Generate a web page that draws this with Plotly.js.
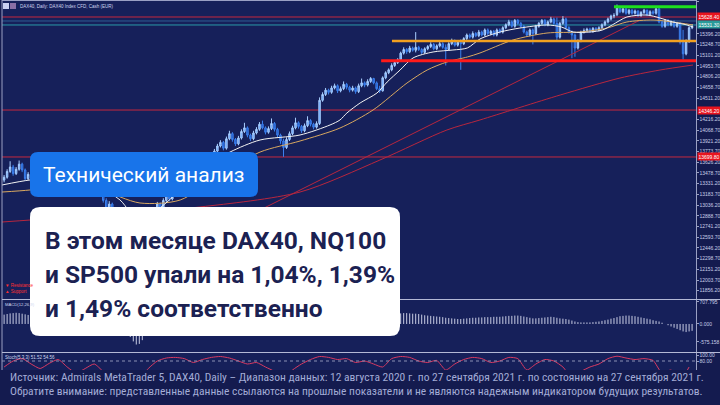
<!DOCTYPE html>
<html><head><meta charset="utf-8">
<script src="https://cdn.plot.ly/plotly-3.0.1.min.js"></script>
<style>html,body{margin:0;padding:0;background:#141b4f;}#chart{width:720px;height:405px;}</style>
</head><body><div id="chart"></div>
<script>
// ---- DAX40 daily bars ----
const openP = [
13380,13420,13500,13560,13470,13530,13600,13520,13400,13460,
13360,13300,13380,13450,13520,13430,13350,13280,13320,13400,
13470,13410,13330,13250,13300,13360,13420,13380,13290,13210,
13260,13330,13280,
13200,13100,12980,13050,12900,12760,12820,12650,12500,12580,12420,12300,12250,
12380,12550,12700,12880,12820,12950,13050,12980,13100,13180,13120,13220,13280,13200,13300,
13350,13400,13450,13380,13500,13560,13620,13580,13680,13720,
13780,13850,13900,13820,13950,14020,13940,13880,13960,14050,14100,14000,13950,14030,
14080,14150,14100,14040,14090,14160,14080,14000,13920,13830,13940,14020,14100,14170,14120,14060,14130,14200,14150,14110,
14160,
14480,14560,14620,14590,14650,14680,14610,14640,14700,14660,
14620,14650,14600,14680,14720,
14690,14740,14780,14720,14640,
14610,14790,14860,
14900,14960,15000,
15040,15130,15180,15150,15200,
15170,
15210,15180,15140,
15190,15220,15250,15190,15230,15260,
15210,
15180,15260,15300,15240,
15280,
15260,15330,15380,15350,15400,
15370,15420,15380,
15450,15400,15430,15380,15450,15420,
15480,15520,15560,15500,15580,15540,
15500,15420,15380,
15450,
15400,15500,15540,15580,15520,15560,15600,
15540,15350,15540,15600,
15480,15420,
15380,15200,
15300,
15420,15440,15460,15430,15470,15450,
15480,15520,15560,15600,15640,
15660,
15760,15700,15740,15680,
15720,15680,15710,15650,15690,15720,15660,15700,
15680,
15740,15560,15500,15580,
15520,15560,15500,
15530,15280,15120,15290,15480
];
const highP = [
13450,13530,13640,13590,13560,13650,13620,13540,13490,13480,
13390,13410,13480,13560,13540,13450,13370,13350,13430,13500,
13490,13430,13350,13330,13390,13450,13440,13400,13310,13290,
13360,13350,13300,
13220,13130,13090,13070,12930,12860,12840,12680,12610,12600,12450,12330,12410,
12580,12730,12910,12900,12980,13080,13070,13130,13210,13200,13250,13310,13300,13330,13380,
13430,13480,13470,13530,13590,13650,13640,13710,13750,13810,
13880,13930,13920,13980,14060,14040,13960,13990,14080,14170,14120,14020,14060,14110,
14180,14200,14120,14120,14230,14180,14100,14020,13950,13970,14050,14130,14240,14190,14140,14160,14260,14220,14170,14190,
14520,
14590,14650,14640,14680,14710,14700,14670,14740,14720,14680,
14680,14670,14710,14780,14740,
14770,14800,14790,14740,14680,
14810,14880,14920,
14990,15030,15060,
15150,15210,15200,15230,15220,
15420,
15230,15200,15210,
15240,15280,15270,15250,15290,15280,
15250,
15280,15330,15320,15300,
15320,
15350,15400,15400,15430,15420,
15450,15440,15470,
15470,15450,15450,15470,15470,15500,
15540,15590,15580,15600,15600,15560,
15520,15440,15470,
15470,
15520,15560,15600,15600,15580,15630,15620,
15620,15560,15640,15620,
15500,15440,
15400,15320,
15440,
15470,15480,15480,15490,15490,15500,
15540,15580,15620,15660,15680,
15800,
15780,15760,15750,15740,
15740,15730,15720,15710,15740,15730,15720,15720,
15760,
15750,15580,15600,15600,
15580,15580,15560,
15560,15450,15320,15500,15530
];
const lowP = [
13350,13400,13480,13440,13450,13510,13490,13370,13380,13330,
13270,13280,13360,13430,13400,13320,13240,13260,13300,13380,
13380,13300,13220,13230,13280,13340,13350,13260,13180,13190,
13240,13250,13170,
13070,12950,12960,12870,12720,12740,12620,12470,12480,12390,12260,12180,12220,
12360,12530,12680,12790,12800,12930,12950,12960,13080,13090,13100,13200,13170,13180,13280,
13330,13380,13350,13360,13480,13540,13550,13560,13660,13700,
13760,13830,13790,13800,13930,13910,13850,13860,13940,14030,13970,13920,13930,14010,
14060,14080,14010,14020,14070,14050,13970,13880,13700,13810,13920,14000,14080,14090,14030,14040,14110,14120,14080,14090,
14140,
14460,14540,14560,14570,14630,14580,14590,14620,14630,14590,
14600,14570,14580,14660,14660,
14670,14720,14700,14620,14580,
14600,14770,14840,
14880,14940,14980,
15020,15110,15120,15130,15150,
15140,
15160,15110,15120,
15170,15200,15170,15170,15210,15190,
14960,
15160,15240,15220,15220,
14900,
15240,15310,15330,15330,15350,
15350,15360,15360,
15380,15380,15360,15360,15400,15400,
15460,15500,15480,15480,15520,15480,
15400,15360,15360,
15250,
15380,15480,15520,15500,15500,15540,15520,
15300,15330,15520,15460,
15400,15060,
15080,15180,
15280,
15400,15420,15410,15410,15430,15430,
15460,15500,15540,15580,15610,
15640,
15680,15680,15660,15660,
15660,15660,15630,15630,15670,15640,15640,15660,
15660,
15540,15480,15480,15500,
15500,15480,15480,
15250,15040,15100,15270,15460
];
const closeP = [
13420,13500,13560,13470,13530,13600,13520,13400,13460,13360,
13300,13380,13450,13520,13430,13350,13280,13320,13400,13470,
13410,13330,13250,13300,13360,13420,13380,13290,13210,13260,
13330,13280,13200,
13100,12980,13050,12900,12760,12820,12650,12500,12580,12420,12300,12250,12380,
12550,12700,12880,12820,12950,13050,12980,13100,13180,13120,13220,13280,13200,13300,13350,
13400,13450,13380,13500,13560,13620,13580,13680,13720,13780,
13850,13900,13820,13950,14020,13940,13880,13960,14050,14100,14000,13950,14030,14080,
14150,14100,14040,14090,14160,14080,14000,13920,13830,13940,14020,14100,14170,14120,14060,14130,14200,14150,14110,14160,
14480,
14560,14620,14590,14650,14680,14610,14640,14700,14660,14620,
14650,14600,14680,14720,14690,
14740,14780,14720,14640,14610,
14790,14860,14900,
14960,15000,15040,
15130,15180,15150,15200,15170,
15210,
15180,15140,15190,
15220,15250,15190,15230,15260,15210,
15180,
15260,15300,15240,15280,
15260,
15330,15380,15350,15400,15370,
15420,15380,15450,
15400,15430,15380,15450,15420,15480,
15520,15560,15500,15580,15540,15500,
15420,15380,15450,
15400,
15500,15540,15580,15520,15560,15600,15540,
15350,15540,15600,15480,
15420,15380,
15200,15300,
15420,
15440,15460,15430,15470,15450,15480,
15520,15560,15600,15640,15650,
15760,
15700,15740,15680,15720,
15680,15710,15650,15690,15720,15660,15700,15680,
15740,
15560,15500,15580,15520,
15560,15500,15540,
15280,15120,15290,15480,15500
];

// ---- moving averages / trend line (read at sample bars) ----
const maFastIdx = [-0.7,8.6,18.6,31.9,38.6,45.2,51.9,58.6,65.2,75.2,85.2,98.5,108.5,111.8,114.1,118.5,124.1,127.5,131.8,136.1,142.8,149.4,154.2,158.4,165.1,171.7,180.7,185.5,189.4,195.0,199.2,202.4,207.3,214.0,218.3,222.6,227.3,229.3];
const maFastVal = [13313,13382,13409,13271,13106,12803,12996,13244,13519,13767,13933,14002,14140,14209,14305,14443,14580,14732,14897,15063,15146,15173,15201,15325,15421,15476,15518,15490,15421,15421,15449,15518,15628,15655,15614,15559,15518,15490];
const maMidIdx = [-0.7,8.6,18.6,31.9,45.2,58.6,71.9,85.2,98.5,111.8,122.8,134.1,140.8,147.4,154.2,158.4,169.4,180.7,191.7,200.7,207.3,216.0,225.0,229.3];
const maMidVal = [13216,13244,13299,13244,13065,13106,13451,13767,13919,14098,14346,14718,14897,15008,15077,15132,15311,15407,15421,15476,15559,15586,15545,15518];
const maSlowIdx = [-0.7,31.9,65.2,98.5,125.1,147.4,158.4,185.1,205.0,218.3,229.3];
const maSlowVal = [12803,12899,13010,13216,13657,14071,14209,14553,14787,14897,14966];
const trendIdx = [85.2,211.7];
const trendVal = [12968,15586];

// ---- horizontal levels ----
const levelThinRed = [15628,14346,13699];
const levelTeal = [15573,15518];
const levelGreen = 15770, levelOrange = 15297, levelRedThick = 15026;
const levelGreenFrom = 203.0, levelOrangeFrom = 129.1, levelRedFrom = 125.5;
const tagRed = [["15628.40",15628],["14346.20",14346],["13699.80",13699]];
const tagTeal = ["15531.30",15531];

// ---- MACD main (histogram) ----
const macd = [
300,320,340,350,360,350,330,310,290,270,
250,230,220,210,200,180,160,150,140,140,130,110,90,80,70,60,50,30,10,-10,-20,-40,-60,
-80,-110,-130,-160,-200,-230,-270,-310,-340,-420,-560,-660,-640,
-520,-380,-280,-200,-140,-80,-40,0,40,70,100,130,150,170,190,
210,230,240,260,280,300,310,320,330,340,350,360,350,350,360,340,320,310,300,300,280,260,250,240,
230,220,200,190,180,160,140,110,80,70,70,80,90,100,100,110,120,120,120,130,
160,200,240,270,300,320,330,340,350,350,340,330,320,310,300,290,280,270,250,230,210,220,240,260,280,300,
320,340,350,350,340,330,330,320,300,280,270,260,250,240,230,220,200,190,180,170,160,160,170,180,190,200,200,210,210,220,
220,220,230,230,230,240,250,260,260,270,270,260,240,220,200,180,180,190,200,210,220,230,220,200,180,170,160,140,110,80,
60,50,50,50,50,60,70,80,100,120,140,170,190,220,250,260,270,270,260,250,230,210,190,170,150,120,100,80,40,0,-40,-80,-120,-160,-200,-240,-260,-240,-220
];
// ---- stochastic main line, every 3rd bar ----
const stochStep = 3;
const stoch = [60,80,88,70,55,72,85,60,40,55,70,45,25,15,10,20,55,80,90,92,88,75,85,92,95,90,80,70,75,60,45,20,50,70,85,95,92,85,88,75,80,70,60,88,95,92,80,75,82,50,70,85,92,88,75,80,92,88,50,70,85,80,60,25,45,60,70,88,96,90,85,88,82,40,50,15,60];

// ---- axis labels (those hidden under the price tags are left out) ----
const priceTicks = [15838.71,15396.20,15248.70,15101.20,14953.70,14806.20,14658.70,14511.20,14216.20,14068.70,13921.20,13773.70,13626.20,13478.70,13331.20,13183.70,13036.20,12888.70,12741.20,12593.70,12446.20,12298.70,12151.20,12003.70,11856.20];
const macdTicks = [707.795, 0, -575.158];
const stochTicks = [100, 80];

// ---- texts ----
const headerText = "DAX40, Daily: DAX40 Index CFD, Cash (EUR)";
const tagText = "Технический анализ";
const headlineLines = ["В этом месяце DAX40, NQ100", "и SP500 упали на 1,04%, 1,39%", "и 1,49% соответственно"];
const footerLines = [
 "Источник: Admirals MetaTrader 5, DAX40, Daily – Диапазон данных: 12 августа 2020 г. по 27 сентября 2021 г. по состоянию на 27 сентября 2021 г.",
 "Обратите внимание: представленные данные ссылаются на прошлые показатели и не являются надежным индикатором будущих результатов."
];

// ================= drawing =================
const W = 720, H = 405;
const PX = px => px / W, PY = py => 1 - py / H;
const idx = closeP.map((_, i) => i);
const stochX = stoch.map((_, k) => k * stochStep);

function roundRect(x0, y0, x1, y1, r) {
  const p = (x, y) => PX(x) + ',' + PY(y);
  return 'M' + p(x0 + r, y0) + ' L' + p(x1 - r, y0) + ' Q' + p(x1, y0) + ' ' + p(x1, y0 + r) +
    ' L' + p(x1, y1 - r) + ' Q' + p(x1, y1) + ' ' + p(x1 - r, y1) +
    ' L' + p(x0 + r, y1) + ' Q' + p(x0, y1) + ' ' + p(x0, y1 - r) +
    ' L' + p(x0, y0 + r) + ' Q' + p(x0, y0) + ' ' + p(x0 + r, y0) + ' Z';
}

// MACD histogram as vertical segments drawn from the zero line to each value
const macdX = [], macdY = [];
macd.forEach((v, i) => { macdX.push(i, i, null); macdY.push(0, v, null); });

const traces = [
  {type:'scatter', mode:'lines', x:maSlowIdx, y:maSlowVal, line:{color:'#b8263e', width:1, shape:'spline', smoothing:0.8}, hoverinfo:'skip', xaxis:'x', yaxis:'y'},
  {type:'scatter', mode:'lines', x:trendIdx, y:trendVal, line:{color:'#b8263e', width:1}, hoverinfo:'skip', xaxis:'x', yaxis:'y'},
  {type:'scatter', mode:'lines', x:maMidIdx, y:maMidVal, line:{color:'#d9a860', width:1, shape:'spline', smoothing:0.8}, hoverinfo:'skip', xaxis:'x', yaxis:'y'},
  {type:'scatter', mode:'lines', x:maFastIdx, y:maFastVal, line:{color:'#f2f2f2', width:1, shape:'spline', smoothing:0.8}, hoverinfo:'skip', xaxis:'x', yaxis:'y'},
  {type:'candlestick', x:idx, open:openP, high:highP, low:lowP, close:closeP, whiskerwidth:0,
   increasing:{line:{color:'#a9cfff', width:1}, fillcolor:'#5b9bff'},
   decreasing:{line:{color:'#3c80ee', width:1}, fillcolor:'#2156c4'},
   hoverinfo:'skip', xaxis:'x', yaxis:'y'},
  {type:'scatter', mode:'lines', x:macdX, y:macdY, connectgaps:false, line:{color:'#c8cce4', width:1}, hoverinfo:'skip', xaxis:'x', yaxis:'y2'},
  {type:'scatter', mode:'lines', x:stochX, y:stoch, line:{color:'#d83a62', width:1, shape:'spline', smoothing:0.6}, hoverinfo:'skip', xaxis:'x', yaxis:'y3'}
];

const axisFont = {family:'Liberation Sans Narrow, Liberation Sans', size:5, color:'#c8cee8'};
const yCommon = {side:'right', anchor:'x', showgrid:false, zeroline:false, showline:true, linecolor:'#9aa0c4', linewidth:1,
  ticks:'outside', ticklen:1.5, tickcolor:'#9aa0c4', tickfont:axisFont, fixedrange:true};

const shapes = [];
// panel frame
shapes.push({type:'line', xref:'paper', yref:'paper', x0:PX(2), x1:PX(2), y0:PY(0), y1:PY(370), line:{color:'#9aa0c4', width:1}});
shapes.push({type:'line', xref:'paper', yref:'paper', x0:PX(2), x1:PX(696), y0:PY(0.5), y1:PY(0.5), line:{color:'#9aa0c4', width:1}});
shapes.push({type:'line', xref:'paper', yref:'paper', x0:PX(2), x1:PX(720), y0:PY(299.5), y1:PY(299.5), line:{color:'#b4b9d6', width:1}});
shapes.push({type:'line', xref:'paper', yref:'paper', x0:PX(2), x1:PX(720), y0:PY(352.5), y1:PY(352.5), line:{color:'#b4b9d6', width:1}});
shapes.push({type:'line', xref:'paper', yref:'y3', x0:PX(2), x1:PX(696), y0:80, y1:80, line:{color:'#8a90b4', width:1, dash:'dot'}});
// levels
levelThinRed.forEach(v => shapes.push({type:'line', xref:'paper', yref:'y', x0:PX(2), x1:PX(696), y0:v, y1:v, line:{color:'#c5283f', width:1}, layer:'below'}));
shapes.push({type:'line', xref:'paper', yref:'y', x0:PX(2), x1:PX(696), y0:levelTeal[0], y1:levelTeal[0], line:{color:'#2f5d92', width:1}, layer:'below'});
shapes.push({type:'line', xref:'paper', yref:'y', x0:PX(2), x1:PX(696), y0:levelTeal[1], y1:levelTeal[1], line:{color:'#2a9aa8', width:1}, layer:'below'});
shapes.push({type:'line', xref:'x', yref:'y', x0:levelGreenFrom, x1:230.3, y0:levelGreen, y1:levelGreen, line:{color:'#1ee01e', width:3}});
shapes.push({type:'line', xref:'x', yref:'y', x0:levelOrangeFrom, x1:230.3, y0:levelOrange, y1:levelOrange, line:{color:'#f2a020', width:2.5}});
shapes.push({type:'line', xref:'x', yref:'y', x0:levelRedFrom, x1:230.3, y0:levelRedThick, y1:levelRedThick, line:{color:'#ff1a1a', width:3}});
// header icons
shapes.push({type:'rect', xref:'paper', yref:'paper', x0:PX(3), x1:PX(9), y0:PY(9), y1:PY(3), fillcolor:'#c9cff0', line:{width:0}});
shapes.push({type:'rect', xref:'paper', yref:'paper', x0:PX(10), x1:PX(16), y0:PY(9), y1:PY(3), fillcolor:'#8b6fa6', line:{width:0}});
// overlay boxes
shapes.push({type:'path', xref:'paper', yref:'paper', path:roundRect(30,152,258,197,8), fillcolor:'#1874ea', line:{width:0}, layer:'above'});
shapes.push({type:'path', xref:'paper', yref:'paper', path:roundRect(30,207,400,336,10), fillcolor:'#ffffff', line:{width:0}, layer:'above'});
// footer band
shapes.push({type:'rect', xref:'paper', yref:'paper', x0:0, x1:1, y0:0, y1:PY(370), fillcolor:'#141b4f', line:{width:0}, layer:'above'});

const annotations = [];
const tinyFont = {family:'Liberation Sans Narrow, Liberation Sans', size:4.5, color:'#d0d6f0'};
annotations.push({xref:'paper', yref:'paper', x:PX(18), y:PY(6), xanchor:'left', yanchor:'middle', text:headerText, showarrow:false, font:tinyFont});
annotations.push({xref:'paper', yref:'paper', x:PX(3), y:PY(304), xanchor:'left', yanchor:'middle', text:'MACD(12,26,9)', showarrow:false, font:Object.assign({}, tinyFont, {size:4.2})});
annotations.push({xref:'paper', yref:'paper', x:PX(3), y:PY(357), xanchor:'left', yanchor:'middle', text:'Stoch(5,3,3) 51.52 54.56', showarrow:false, font:tinyFont});
annotations.push({xref:'paper', yref:'paper', x:PX(3), y:PY(285), xanchor:'left', yanchor:'middle', text:'▼ Resistance', showarrow:false, font:Object.assign({}, tinyFont, {color:'#ff3030'})});
annotations.push({xref:'paper', yref:'paper', x:PX(3), y:PY(291), xanchor:'left', yanchor:'middle', text:'▲ Support', showarrow:false, font:Object.assign({}, tinyFont, {color:'#ff3030'})});
const tagFont = {family:'Liberation Sans Narrow, Liberation Sans', size:5, color:'#ffffff'};
tagRed.forEach(t => annotations.push({xref:'paper', yref:'y', x:PX(697), y:t[1], xanchor:'left', yanchor:'middle', text:t[0], showarrow:false, bgcolor:'#e8141e', borderpad:0.5, font:tagFont}));
annotations.push({xref:'paper', yref:'y', x:PX(697), y:tagTeal[1], xanchor:'left', yanchor:'middle', text:tagTeal[0], showarrow:false, bgcolor:'#2a9a9a', borderpad:0.5, font:tagFont});
annotations.push({xref:'paper', yref:'paper', x:PX(144), y:PY(175), xanchor:'center', yanchor:'middle', text:tagText, showarrow:false, font:{family:'Roboto', size:21, color:'#ffffff'}});
const headY = [240, 274, 308];
headlineLines.forEach((t, k) => annotations.push({xref:'paper', yref:'paper', x:PX(43), y:PY(headY[k]), xanchor:'left', yanchor:'middle', text:'<b>' + t + '</b>', showarrow:false, font:{family:'Roboto', size:24.5, color:'#1b2152'}}));
const footY = [377, 391];
footerLines.forEach((t, k) => annotations.push({xref:'paper', yref:'paper', x:PX(8), y:PY(footY[k]), xanchor:'left', yanchor:'middle', text:t, showarrow:false, font:{family:'Liberation Sans Narrow, Roboto Condensed, Liberation Sans', size:11.5, color:'#a3acd6'}}));

const layout = {
  width: W, height: H, margin:{l:0, r:0, t:0, b:0},
  paper_bgcolor:'#141b4f', plot_bgcolor:'#16205a', showlegend:false, dragmode:false,
  xaxis:{domain:[PX(2), PX(696)], range:[-0.7, 230.3], visible:false, rangeslider:{visible:false}, fixedrange:true},
  yaxis:Object.assign({}, yCommon, {domain:[PY(299), 1], range:[11741.9, 15862.1], tickvals:priceTicks, ticktext:priceTicks.map(v => v.toFixed(2))}),
  yaxis2:Object.assign({}, yCommon, {domain:[PY(352), PY(300)], range:[-900, 770], tickvals:macdTicks, ticktext:macdTicks.map(v => v.toFixed(3))}),
  yaxis3:Object.assign({}, yCommon, {domain:[PY(370), PY(353)], range:[50, 106.7], tickvals:stochTicks, ticktext:stochTicks.map(v => v.toFixed(2))}),
  shapes: shapes, annotations: annotations
};
const lens = [openP.length, highP.length, lowP.length, closeP.length, macd.length].join(',');
if (lens !== '230,230,230,230,230') annotations.push({xref:'paper', yref:'paper', x:0.5, y:0.5, text:'LEN ' + lens, showarrow:false, font:{size:20, color:'yellow'}});
Plotly.newPlot('chart', traces, layout, {staticPlot:true, displayModeBar:false});
</script></body></html>
